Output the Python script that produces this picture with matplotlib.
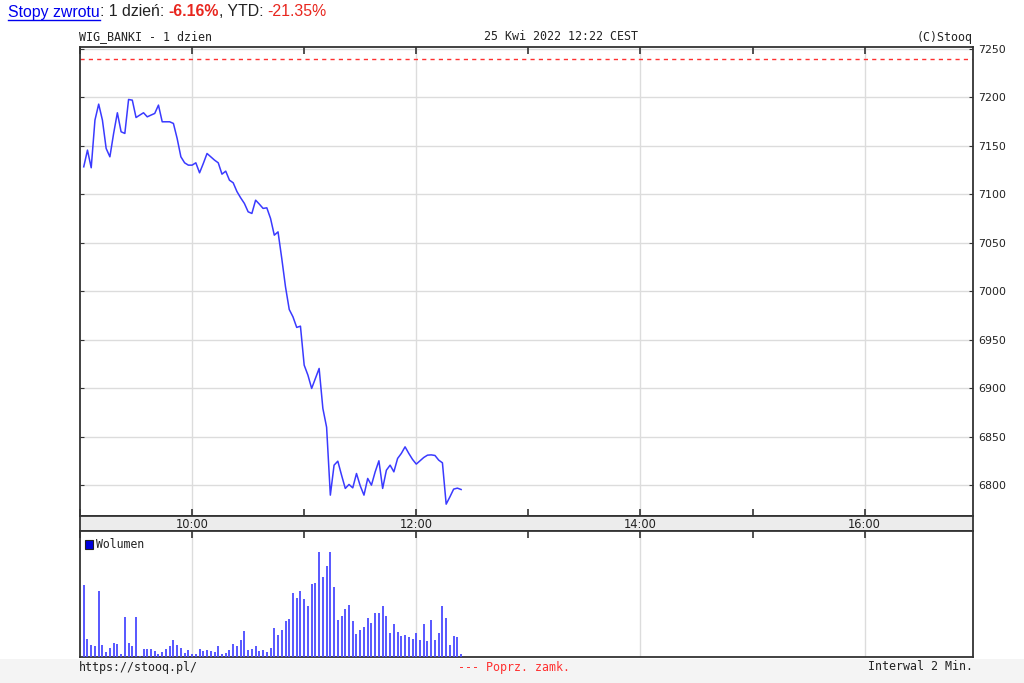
import numpy as np
import matplotlib
matplotlib.use("Agg")
import matplotlib.pyplot as plt
from matplotlib.lines import Line2D
from matplotlib.patches import Rectangle

# WIG_BANKI intraday, 2-minute bars from 9:02
start_min = 9 * 60 + 2
interval = 2

price = [7128.5, 7145.7, 7127.5, 7176.6, 7193.1, 7176.6, 7147.4, 7138.8, 7162.9, 7184.2,
         7164.6, 7162.9, 7197.9, 7197.2, 7179.3, 7181.8, 7184.2, 7180.0, 7181.8, 7183.5,
         7192.1, 7174.9, 7174.9, 7174.9, 7173.2, 7157.7, 7138.8, 7132.6, 7130.2, 7130.2,
         7132.6, 7122.3, 7131.9, 7142.2, 7138.8, 7135.4, 7132.6, 7120.9, 7124.0, 7114.7,
         7112.0, 7103.0, 7096.5, 7090.7, 7082.1, 7080.4, 7094.1, 7090.0, 7085.6, 7086.2,
         7075.2, 7058.0, 7061.4, 7034.0, 7004.7, 6981.4, 6973.8, 6962.9, 6964.2, 6924.0,
         6913.7, 6900.0, 6910.3, 6920.6, 6879.4, 6860.0, 6790.0, 6820.9, 6825.0, 6810.6,
         6796.9, 6801.0, 6797.5, 6812.3, 6799.6, 6790.0, 6807.2, 6800.3, 6814.0, 6825.4,
         6796.9, 6815.7, 6820.9, 6814.0, 6827.8, 6833.0, 6839.8, 6833.0, 6826.8, 6822.0,
         6825.4, 6828.8, 6831.2, 6831.5, 6830.9, 6826.1, 6823.3, 6780.7, 6788.2, 6796.2,
         6797.2, 6795.8]

volume = [71, 18, 12, 11, 65, 12, 5, 9, 14, 13, 3, 40, 14, 11, 40, 1, 8, 8, 8, 6,
          3, 5, 8, 11, 17, 12, 9, 4, 7, 3, 3, 8, 6, 7, 6, 5, 11, 3, 4, 7,
          13, 11, 17, 26, 7, 8, 11, 6, 7, 5,
          9, 29, 22, 27, 36, 38, 63, 59, 65, 58, 51, 72, 73, 104, 79, 90, 104, 69, 37, 41,
          48, 52, 36, 23, 27, 30, 39, 34, 44, 44, 51, 41, 24, 33, 25, 21, 22, 20, 18, 24,
          17, 33, 16, 37, 17, 24, 51, 39, 12, 21, 20, 3]

prev_close = 7240
price_ticks = [6800, 6850, 6900, 6950, 7000, 7050, 7100, 7150, 7200, 7250]
hour_ticks = [9, 10, 11, 12, 13, 14, 15, 16]
label_hours = [10, 12, 14, 16]

times = start_min + interval * np.arange(len(price))

W, H = 1024, 683
fig = plt.figure(figsize=(W / 100, H / 100), dpi=100)
fig.patch.set_facecolor("white")

def fx(px):
    return px / W

def fy(py):
    return 1 - py / H

line_col = "#3a3aff"
grid_col = "#dcdcdc"
spine_col = "#333333"
red = "#e8261e"
mono = "DejaVu Sans Mono"

# bottom gray strip
fig.add_artist(Rectangle((0, 0), 1, fy(659), transform=fig.transFigure,
                         facecolor="#f4f4f4", edgecolor="none", zorder=0))

left, right = 80, 973
xlim = (540, 1018)

ax = fig.add_axes([fx(left), fy(515.5), fx(right - left), fy(47) - fy(515.5)])
band = fig.add_axes([fx(left), fy(531), fx(right - left), fy(515.5) - fy(531)])
axv = fig.add_axes([fx(left), fy(657), fx(right - left), fy(531) - fy(657)])

for a in (ax, band, axv):
    a.set_xlim(*xlim)
    for s in a.spines.values():
        s.set_color(spine_col)
        s.set_linewidth(1.3)

# price panel
ax.set_ylim(6769, 7252)
for v in price_ticks:
    ax.axhline(v, color=grid_col, lw=1, zorder=1)
for h in label_hours:
    ax.axvline(h * 60, color=grid_col, lw=1, zorder=1)
ax.axhline(prev_close, color="#ff3030", lw=1, ls=(0, (3, 3)), zorder=2)
ax.plot(times, price, color=line_col, lw=1.1, zorder=3)
ax.set_xticks([h * 60 for h in hour_ticks])
ax.tick_params(axis="x", direction="in", length=5, top=True, bottom=True,
               labelbottom=False, color=spine_col, width=1.2)
ax.set_yticks(price_ticks)
ax.yaxis.tick_right()
ax.tick_params(axis="y", direction="in", length=3, left=True, right=True,
               labelleft=False, labelright=True, labelsize=7.9, pad=4,
               labelcolor="#222222", color=spine_col)

# time band
band.set_facecolor("#ececec")
band.set_ylim(0, 1)
band.set_yticks([])
band.set_xticks([])
for h in label_hours:
    band.text(h * 60, 0.45, f"{h}:00", ha="center", va="center", fontsize=8.3,
              color="#222222")

# volume panel
axv.set_ylim(0, 125)
for h in label_hours:
    axv.axvline(h * 60, color=grid_col, lw=1, zorder=1)
axv.vlines(times, 0, volume, color="#4a4aff", lw=1.3, zorder=3)
axv.set_yticks([])
axv.set_xticks([h * 60 for h in hour_ticks])
axv.tick_params(axis="x", direction="in", length=5, top=True, bottom=False,
                labelbottom=False, color=spine_col, width=1.2)
axv.add_patch(Rectangle((0.006, 0.86), 0.008, 0.07, transform=axv.transAxes,
                        facecolor="#0000dd", edgecolor="#222222", lw=0.8, zorder=4))
axv.text(0.018, 0.895, "Wolumen", transform=axv.transAxes, fontsize=8.3,
         family=mono, va="center", color="#222222")

# header texts above the chart
fig.text(fx(79), fy(37), "WIG_BANKI - 1 dzien", family=mono, fontsize=8.4,
         va="center", ha="left", color="#222222")
fig.text(fx(561), fy(37), "25 Kwi 2022 12:22 CEST", family=mono, fontsize=8.4,
         va="center", ha="center", color="#222222")
fig.text(fx(973), fy(37), "(C)Stooq", family=mono, fontsize=8.4,
         va="center", ha="right", color="#222222")

# footer texts
fig.text(fx(79), fy(667), "https://stooq.pl/", family=mono, fontsize=8.4,
         va="center", ha="left", color="#222222")
fig.text(fx(514), fy(667), "--- Poprz. zamk.", family=mono, fontsize=8.4,
         va="center", ha="center", color="#ff3030")
fig.text(fx(973), fy(667), "Interwal 2 Min.", family=mono, fontsize=8.4,
         va="center", ha="right", color="#222222")

# top line: returns
parts = [("Stopy zwrotu", "#0000ee", "normal"),
         (": 1 dzień: ", "#222222", "normal"),
         ("-6.16%", red, "bold"),
         (", YTD: ", "#222222", "normal"),
         ("-21.35%", red, "normal")]
fig.canvas.draw()
renderer = fig.canvas.get_renderer()
x = fx(8)
for i, (s, c, w) in enumerate(parts):
    t = fig.text(x, fy(12), s, color=c, fontweight=w, fontsize=11.4,
                 family="Liberation Sans", va="center", ha="left")
    bb = t.get_window_extent(renderer)
    if i == 0:
        fig.add_artist(Line2D([bb.x0 / W, bb.x1 / W], [fy(20), fy(20)],
                              transform=fig.transFigure, color=c, lw=1))
    x = bb.x1 / W

fig.savefig("out.png", dpi=100)
